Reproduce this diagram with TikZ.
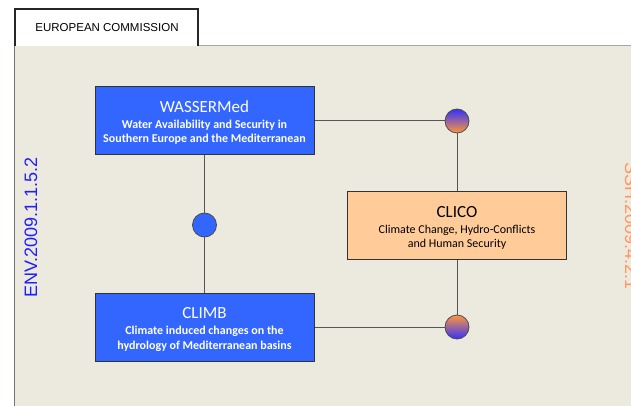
\documentclass[tikz,border=0pt]{standalone}
\usepackage{fontspec}
\setmainfont{Carlito}
\newfontfamily\arialfont{Liberation Sans}
\usetikzlibrary{calc}
\definecolor{panelbg}{RGB}{236,233,222}
\definecolor{projblue}{RGB}{51,102,255}
\definecolor{projorange}{RGB}{255,204,153}
\definecolor{linkgray}{RGB}{85,85,85}
\definecolor{envblue}{RGB}{30,30,255}
\definecolor{sshorange}{RGB}{255,150,100}
\definecolor{dotblue}{RGB}{50,50,255}
\definecolor{dotorange}{RGB}{255,150,60}
\tikzstyle{projbox}=[rectangle,draw=black!80,line width=1pt,minimum width=219pt,minimum height=68pt,inner sep=0pt]
\tikzstyle{linkdot}=[circle,draw=black!70,line width=0.8pt,minimum size=24pt,inner sep=0pt]
\tikzstyle{link} = [draw,linkgray,line width=1pt]
\tikzstyle{boxtitle} = [anchor=base,inner sep=0pt,font=\fontsize{17}{17}\selectfont]
\tikzstyle{boxsub} = [anchor=base,inner sep=0pt,font=\fontsize{12}{12}\selectfont]
\tikzstyle{code} = [anchor=base,inner sep=0pt,font=\arialfont\fontsize{18}{18}\selectfont]

\begin{document}
\begin{tikzpicture}[x=1pt,y=-1pt]

\useasboundingbox (0,0) rectangle (631,406);
\fill[white] (0,0) rectangle (631,406);

% panel and tab
\fill[panelbg] (14,46) rectangle (631,406);
\draw[gray!70,line width=1pt] (198,46) -- (631,46);
\draw[gray!90!black,line width=1pt] (14.5,46) -- (14.5,406);
\draw[draw=black!85,fill=white,line width=2pt] (15,46) -- (15,9) -- (198,9) -- (198,46);
\node[anchor=base,inner sep=0pt,font=\arialfont\fontsize{11.5}{12}\selectfont] (tab) at (107,32) {EUROPEAN COMMISSION};

% project boxes
    \foreach \pos/\name/\col in {{(204.5,121)/wasser/projblue}, {(457,225.5)/clico/projorange}, {(204.5,327)/climb/projblue}}
        \node[projbox,fill=\col] (\name) at \pos {};

    \foreach \proj/\head/\lineA/\lineB/\col/\wt in {wasser/WASSERMed/{Water Availability and Security in}/{Southern Europe and the Mediterranean}/white/\bfseries,
        clico/CLICO/{Climate Change, Hydro-Conflicts}/{and Human Security}/black/\mdseries,
        climb/CLIMB/{Climate induced changes on the}/{hydrology of Mediterranean basins}/white/\bfseries}
    {
        \node[boxtitle,text=\col] at ([yshift=-26pt]\proj.north) {\head};
        \node[boxsub,text=\col] at ([yshift=-42pt]\proj.north) {\wt\lineA};
        \node[boxsub,text=\col] at ([yshift=-56.5pt]\proj.north) {\wt\lineB};
    }

% links
    \node[linkdot,fill=projblue] (wcdot) at (204.5,225) {};
    \node[linkdot,top color=dotblue,bottom color=dotorange] (wkdot) at (457,121) {};
    \node[linkdot,top color=dotorange,bottom color=dotblue] (kcdot) at (457,327) {};

    \foreach \source/ \dest in {wasser/wcdot, wcdot/climb, wasser/wkdot, wkdot/clico, clico/kcdot, climb/kcdot}
        \path[link] (\source) -- (\dest);

% call codes
\node[code,rotate=90,text=envblue] (envcode) at (37,227.5) {ENV.2009.1.1.5.2};
\node[code,rotate=-90,text=sshorange] (sshcode) at (625,226) {SSH.2009.4.2.1};

\end{tikzpicture}
\end{document}
